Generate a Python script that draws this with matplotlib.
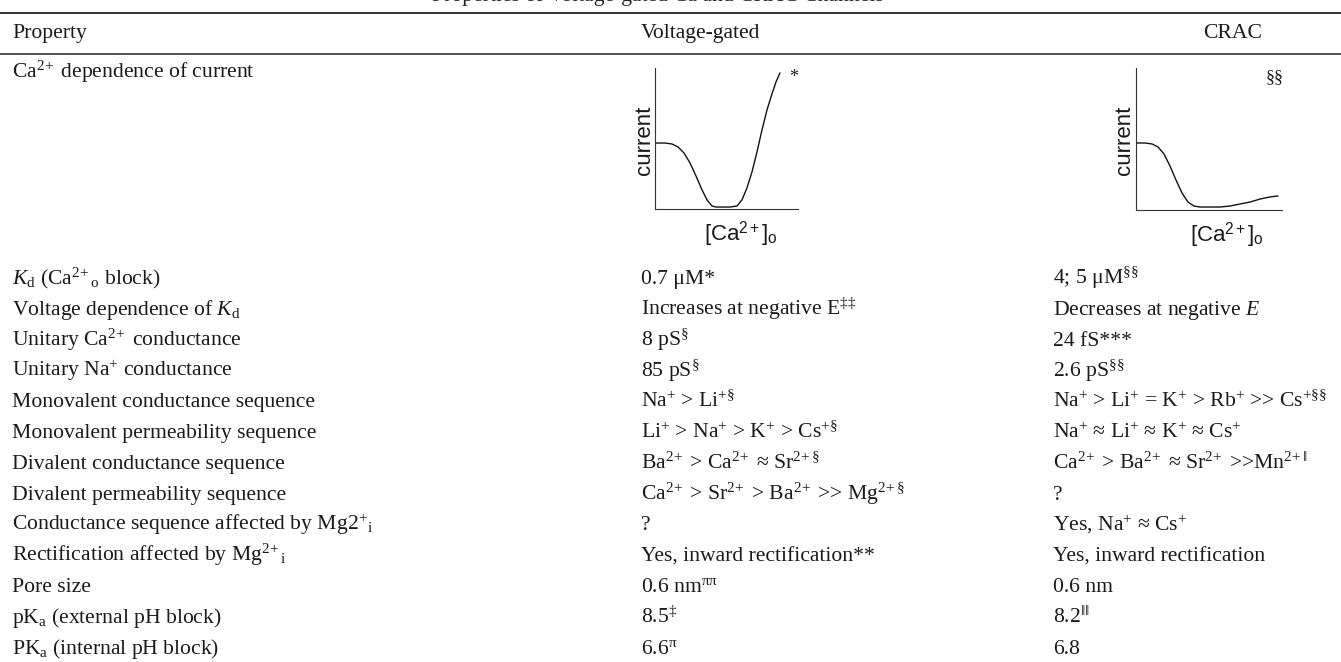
import matplotlib
matplotlib.use("Agg")
import matplotlib.pyplot as plt
from matplotlib.lines import Line2D

plt.rcParams['font.family'] = 'Liberation Serif'
plt.rcParams['mathtext.fontset'] = 'custom'
plt.rcParams['mathtext.rm'] = 'Liberation Serif'
plt.rcParams['mathtext.it'] = 'Liberation Serif:italic'
plt.rcParams['mathtext.bf'] = 'Liberation Serif:bold'
plt.rcParams['mathtext.sf'] = 'Liberation Sans'

# ---------------- data ----------------
title = "Properties of Voltage-gated Ca and CRAC Channels"
headers = ["Property", "Voltage-gated", "CRAC"]

properties = [
    r"$K_{\mathrm{d}}$ (Ca$^{2\!+}$$_{\mathrm{o}}$ block)",
    r"Voltage dependence of $K_{\mathrm{d}}$",
    r"Unitary Ca$^{2\!+}$ conductance",
    r"Unitary Na$^{+}$ conductance",
    "Monovalent conductance sequence",
    "Monovalent permeability sequence",
    "Divalent conductance sequence",
    "Divalent permeability sequence",
    r"Conductance sequence affected by Mg2$^{+}$$_{\mathrm{i}}$",
    r"Rectification affected by Mg$^{2\!+}$$_{\mathrm{i}}$",
    "Pore size",
    r"pK$_{\mathrm{a}}$ (external pH block)",
    r"PK$_{\mathrm{a}}$ (internal pH block)",
]
voltage_gated = [
    "0.7 μM*",
    r"Increases at negative E$^{‡‡}$",
    r"8 pS$^{§}$",
    r"85 pS$^{§}$",
    r"Na$^{+}$ > Li$^{+§}$",
    r"Li$^{+}$ > Na$^{+}$ > K$^{+}$ > Cs$^{+§}$",
    r"Ba$^{2\!+}$ > Ca$^{2\!+}$ ≈ Sr$^{2\!+§}$",
    r"Ca$^{2\!+}$ > Sr$^{2\!+}$ > Ba$^{2\!+}$ >> Mg$^{2\!+§}$",
    "?",
    "Yes, inward rectification**",
    r"0.6 nm$^{\mathrm{ππ}}$",
    r"8.5$^{‡}$",
    r"6.6$^{\mathrm{π}}$",
]
crac = [
    r"4; 5 μM$^{§§}$",
    r"Decreases at negative $\mathit{E}$",
    "24 fS***",
    r"2.6 pS$^{§§}$",
    r"Na$^{+}$ > Li$^{+}$ = K$^{+}$ > Rb$^{+}$ >> Cs$^{+§§}$",
    r"Na$^{+}$ ≈ Li$^{+}$ ≈ K$^{+}$ ≈ Cs$^{+}$",
    r"Ca$^{2\!+}$ > Ba$^{2\!+}$ ≈ Sr$^{2\!+}$ >>Mn$^{2\!+‖}$",
    "?",
    r"Yes, Na$^{+}$ ≈ Cs$^{+}$",
    "Yes, inward rectification",
    "0.6 nm",
    r"8.2$^{‖‖}$",
    "6.8",
]
first_row_label = r"Ca$^{2\!+}$ dependence of current"

# schematic curves (normalised [Ca2+]o vs current)
vg_x = [0.000, 0.070, 0.119, 0.161, 0.203, 0.245, 0.287, 0.329, 0.364, 0.399, 0.427,
        0.469, 0.524, 0.573, 0.608, 0.643, 0.678, 0.713, 0.748, 0.783, 0.818, 0.846, 0.874]
vg_y = [0.468, 0.468, 0.461, 0.440, 0.397, 0.326, 0.234, 0.135, 0.064, 0.021, 0.014,
        0.014, 0.014, 0.021, 0.064, 0.149, 0.262, 0.404, 0.560, 0.702, 0.816, 0.901, 0.965]
crac_x = [0.000, 0.062, 0.110, 0.151, 0.192, 0.233, 0.274, 0.315, 0.356, 0.397, 0.438,
          0.507, 0.575, 0.644, 0.712, 0.781, 0.849, 0.918, 0.973]
crac_y = [0.472, 0.472, 0.465, 0.444, 0.394, 0.310, 0.211, 0.120, 0.056, 0.028, 0.021,
          0.021, 0.021, 0.028, 0.042, 0.056, 0.077, 0.092, 0.099]
vg_note = "*"
crac_note = "§§"

# ---------------- layout ----------------
W, H = 1341, 662
fig = plt.figure(figsize=(W / 100, H / 100), dpi=100)


def fx(x):
    return x / W


def fy(y):
    return 1 - y / H


FS = 15.6
TC = '#1a1a1a'
col_x = [12, 641, 1053]

# title (cut off at the top edge, as in the source)
fig.text(fx(658), fy(1.0), title, fontsize=FS, ha='center', va='baseline', color='#222222')

# rules
for y, lw in [(13, 1.3), (54, 1.1)]:
    fig.add_artist(Line2D([0, 1], [fy(y), fy(y)], transform=fig.transFigure,
                          color='#222222', lw=lw))

# header row
hb = 38
fig.text(fx(col_x[0]), fy(hb), headers[0], fontsize=FS, ha='left', va='baseline', color=TC)
fig.text(fx(col_x[1]), fy(hb), headers[1], fontsize=FS, ha='left', va='baseline', color=TC)
fig.text(fx(1233), fy(hb), headers[2], fontsize=FS, ha='center', va='baseline', color=TC)

# first row label
fig.text(fx(col_x[0]), fy(78), first_row_label, fontsize=FS, ha='left', va='baseline', color=TC)

# rows
row0 = 278
step = 30.8
for i, (p, v, c) in enumerate(zip(properties, voltage_gated, crac)):
    yb = row0 + i * step + 6
    fig.text(fx(col_x[0]), fy(yb), p, fontsize=FS, ha='left', va='baseline', color=TC)
    fig.text(fx(col_x[1]), fy(yb), v, fontsize=FS, ha='left', va='baseline', color=TC)
    fig.text(fx(col_x[2]), fy(yb), c, fontsize=FS, ha='left', va='baseline', color=TC)


# small schematic plots
def schematic(left, right, top, bottom, xs, ys, note, note_x, xlab_x, ylab_x):
    ax = fig.add_axes([fx(left), fy(bottom), (right - left) / W, (bottom - top) / H])
    ax.plot(xs, ys, color='#111111', lw=1.0, solid_capstyle='round')
    ax.set_xlim(0, 1)
    ax.set_ylim(0, 1)
    ax.set_xticks([])
    ax.set_yticks([])
    for s in ['top', 'right']:
        ax.spines[s].set_visible(False)
    for s in ['left', 'bottom']:
        ax.spines[s].set_color('#333333')
        ax.spines[s].set_linewidth(0.8)
    ax.patch.set_alpha(0)
    ax.text(ylab_x, 0.49, "current", transform=ax.transAxes, rotation=90,
            fontfamily='Liberation Sans', fontsize=16, ha='center', va='center', color=TC)
    ax.text(xlab_x, -0.18, r"[Ca$^{\mathsf{2+}}$]$_{\mathsf{o}}$", transform=ax.transAxes,
            fontfamily='Liberation Sans', fontsize=16, ha='center', va='center', color=TC)
    ax.text(note_x, 0.93, note, transform=ax.transAxes, fontsize=13, ha='center',
            va='center', color=TC)
    return ax


schematic(655, 798, 68, 209, vg_x, vg_y, vg_note, 0.972, 0.60, -0.075)
schematic(1136, 1282, 68, 210, crac_x, crac_y, crac_note, 0.952, 0.62, -0.08)

fig.savefig("out.png", dpi=100)
